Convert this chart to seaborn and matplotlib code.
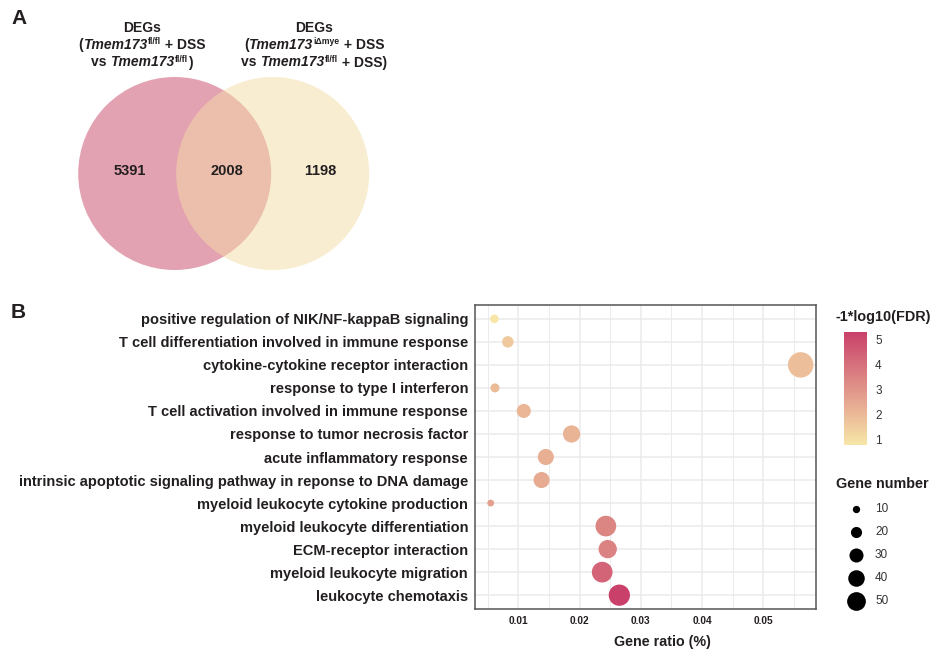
import numpy as np
import pandas as pd
import matplotlib
matplotlib.use("Agg")
import matplotlib.pyplot as plt
from matplotlib.patches import Circle
from matplotlib.colors import LinearSegmentedColormap, Normalize
from matplotlib.ticker import MultipleLocator, FormatStrFormatter
import matplotlib.cm as cm
import seaborn as sns

# ---- Panel A: DEG overlap ----
venn_counts = [5391, 2008, 1198]          # left only, shared, right only

# ---- Panel B: enrichment results ----
terms = [
    "positive regulation of NIK/NF-kappaB signaling",
    "T cell differentiation involved in immune response",
    "cytokine-cytokine receptor interaction",
    "response to type I interferon",
    "T cell activation involved in immune response",
    "response to tumor necrosis factor",
    "acute inflammatory response",
    "intrinsic apoptotic signaling pathway in reponse to DNA damage",
    "myeloid leukocyte cytokine production",
    "myeloid leukocyte differentiation",
    "ECM-receptor interaction",
    "myeloid leukocyte migration",
    "leukocyte chemotaxis",
]
gene_ratio = [0.0061, 0.0083, 0.0561, 0.0062, 0.0109, 0.0187, 0.0145,
              0.0138, 0.0055, 0.0243, 0.0246, 0.0237, 0.0265]
gene_number = [13, 21, 88, 14, 30, 43, 38, 38, 9, 60, 48, 60, 63]
neg_log_fdr = [0.80, 1.6, 1.9, 2.0, 2.1, 2.2, 2.3, 2.4, 2.7, 3.4, 3.5, 4.3, 5.29]

size_breaks = [10, 20, 30, 40, 50]
fdr_ticks = [1, 2, 3, 4, 5]

sns.set_style("white")
plt.rcParams["font.family"] = ["Liberation Sans", "DejaVu Sans"]
plt.rcParams["text.kerning_factor"] = 8   # keep digit pairs evenly spaced

TXT = "#231F20"
W, H = 933, 650
fig = plt.figure(figsize=(W / 100, H / 100), dpi=100)
renderer = fig.canvas.get_renderer()


def px_axes(x0, y0, x1, y1):
    """Axes placed by pixel box (top-left origin)."""
    return fig.add_axes([x0 / W, 1 - y1 / H, (x1 - x0) / W, (y1 - y0) / H])


def rich_line(ax, cx, baseline, segments, size=10):
    """Centered line built from (text, kind) pieces; kind: n, it, sup."""
    pieces = []
    total = 0.0
    for s, kind in segments:
        fs = size * 0.62 if kind == "sup" else size
        dy = -4.6 if kind == "sup" else 0.0
        t = ax.text(0, baseline + dy, s, fontsize=fs, fontweight="bold",
                    fontstyle="italic" if kind == "it" else "normal",
                    ha="left", va="baseline", color=TXT)
        w = t.get_window_extent(renderer).width
        if kind == "it":
            w += 0.8
        pieces.append((t, w))
        total += w
    x = cx - total / 2
    for t, w in pieces:
        t.set_x(x)
        x += w


# ---------------- Venn diagram ----------------
va = px_axes(0, 0, 420, 290)
va.set_xlim(0, 420)
va.set_ylim(290, 0)
va.axis("off")
va.add_patch(Circle((174.7, 173.5), 96.5, facecolor="#C94767", alpha=0.5, lw=0))
va.add_patch(Circle((272.7, 173.5), 96.5, facecolor="#F3DDA5", alpha=0.5, lw=0))
for x, n in zip([130, 226.7, 320], venn_counts):
    va.text(x, 171, str(n), ha="center", va="center", fontsize=10.5,
            fontweight="bold", color=TXT)

left_title = [
    [("DEGs", "n")],
    [("(", "n"), ("Tmem173", "it"), ("fl/fl", "sup"), (" + DSS", "n")],
    [("vs ", "n"), ("Tmem173", "it"), ("fl/fl", "sup"), (")", "n")],
]
right_title = [
    [("DEGs", "n")],
    [("(", "n"), ("Tmem173", "it"), ("i\u0394mye", "sup"), (" + DSS", "n")],
    [("vs ", "n"), ("Tmem173", "it"), ("fl/fl", "sup"), (" + DSS)", "n")],
]
for cx, lines in [(142, left_title), (314, right_title)]:
    for base, segs in zip([31.5, 49.0, 66.5], lines):
        rich_line(va, cx, base, segs)

fig.text(11 / W, 1 - 18 / H, "A", fontsize=15, fontweight="bold",
         ha="left", va="center", color=TXT)
fig.text(11 / W, 1 - 313 / H, "B", fontsize=15, fontweight="bold",
         ha="left", va="center", color=TXT)

# ---------------- Bubble plot ----------------
df = pd.DataFrame({"term": terms, "ratio": gene_ratio,
                   "count": gene_number, "score": neg_log_fdr})

cmap = LinearSegmentedColormap.from_list("fdr", ["#F7E6A8", "#C9406A"])
norm = Normalize(0.80, 5.29)


def marker_area(n):
    d_px = -1.93 + 2.92 * np.sqrt(n)
    return (d_px * 0.72) ** 2


size_map = {n: marker_area(n) for n in sorted(set(gene_number))}

ax = px_axes(475, 305, 815.7, 609)
sns.scatterplot(data=df, x="ratio", y="term", hue="score", palette=cmap,
                hue_norm=norm, size="count", sizes=size_map, linewidth=0,
                alpha=1, legend=False, ax=ax, zorder=3)

ax.set_xlim(0.00294, 0.05855)
ax.set_ylim(len(terms) - 1 + 0.6, -0.6)
ax.xaxis.set_major_locator(MultipleLocator(0.01))
ax.xaxis.set_minor_locator(MultipleLocator(0.005))
ax.xaxis.set_major_formatter(FormatStrFormatter("%.2f"))
ax.set_axisbelow(True)
ax.grid(which="major", color="#EBEBEB", lw=1.1)
ax.grid(which="minor", axis="x", color="#EBEBEB", lw=0.7)
for sp in ax.spines.values():
    sp.set_color("#555555")
    sp.set_linewidth(1.1)
ax.tick_params(which="major", length=3, width=0.8, color="#333333", pad=2)
ax.tick_params(which="minor", length=0)
ax.tick_params(axis="y", labelsize=10.5, labelcolor=TXT)
ax.tick_params(axis="x", labelsize=7.3, labelcolor=TXT)
for lab in ax.get_yticklabels() + ax.get_xticklabels():
    lab.set_fontweight("bold")
ax.set_ylabel("")
ax.set_xlabel("Gene ratio (%)", fontsize=10.3, fontweight="bold", color=TXT)
ax.xaxis.set_label_coords((662 - 475) / (815.7 - 475), -(641.7 - 609) / (609 - 305),
                          transform=ax.transAxes)
ax.xaxis.label.set_va("center")

# ---------------- Colour bar ----------------
cax = px_axes(844, 331.7, 866.7, 445)
cb = fig.colorbar(cm.ScalarMappable(norm=norm, cmap=cmap), cax=cax)
cb.outline.set_visible(False)
cb.set_ticks(fdr_ticks)
cax.tick_params(axis="y", direction="in", length=4, width=0.8, colors="white",
                left=True, right=True, labelcolor="#333333", labelsize=8.5, pad=6)
fig.text(836 / W, 1 - 316.7 / H, "-1*log10(FDR)", fontsize=10.4,
         fontweight="bold", ha="left", va="center", color=TXT)

# ---------------- Size legend ----------------
la = px_axes(820, 470, 933, 620)
la.set_xlim(820, 933)
la.set_ylim(620, 470)
la.axis("off")
la.text(836, 484, "Gene number", fontsize=10.4, fontweight="bold",
        ha="left", va="center", color=TXT)
for i, v in enumerate(size_breaks):
    y = 509 + i * 23
    la.scatter([855.7], [y], s=marker_area(v), color="black", lw=0)
    la.text(875, y, str(v), fontsize=8.5, ha="left", va="center", color="#333333")

fig.savefig("out.png", dpi=100)
